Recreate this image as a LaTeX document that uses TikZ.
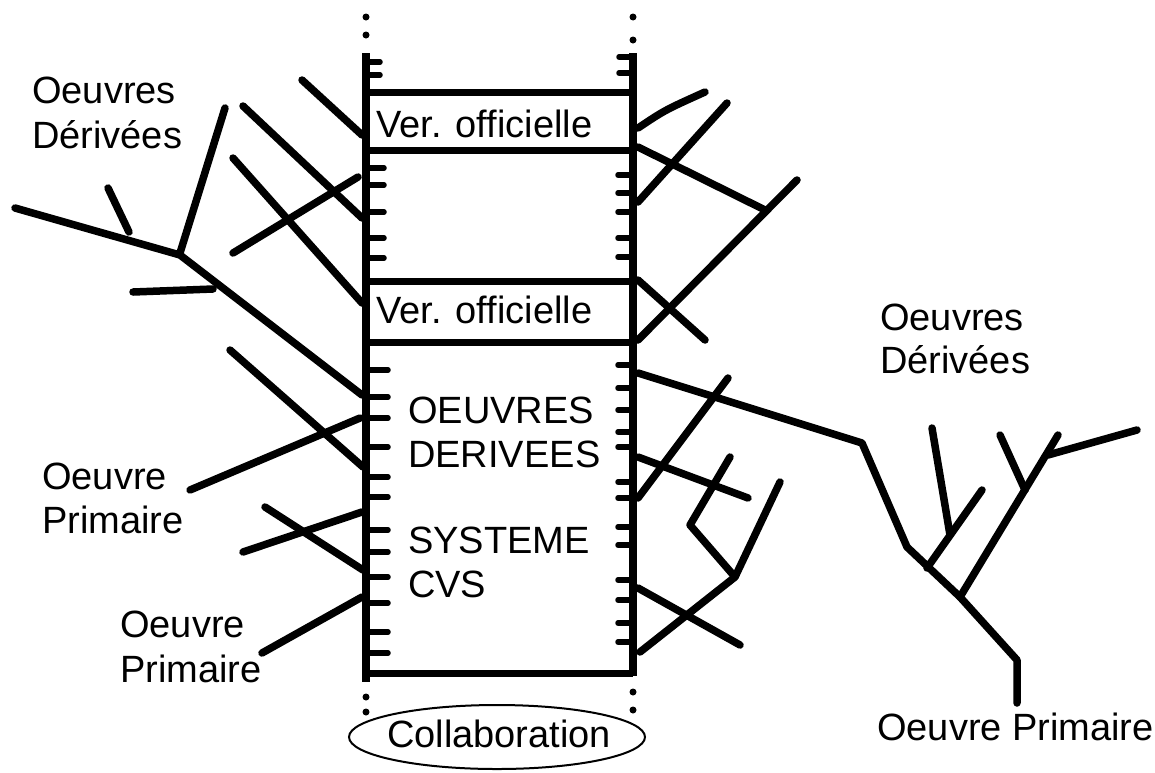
\documentclass[tikz,border=0pt]{standalone}
\usepackage{fontspec}
\setmainfont{Liberation Sans}
\usetikzlibrary{shapes.geometric}
\begin{document}
\begin{tikzpicture}[x=1pt,y=-1pt,
  br/.style={line width=7.5pt,line cap=round,line join=round},
  bx/.style={line width=7pt},
  vl/.style={line width=8pt},
  tk/.style={line width=5.5pt,line cap=round},
  lbl/.style={anchor=base west,inner sep=0pt,font=\fontsize{38}{44}\selectfont},
  dotn/.style={fill=black,circle,inner sep=0pt,minimum size=7pt}]
\useasboundingbox (0,0) rectangle (1155,772);
\fill[white] (0,0) rectangle (1155,772);

% dotted continuations
\foreach \y in {17,35,697,712} \node[dotn] at (366,\y) {};
\foreach \y in {17,40,692,710} \node[dotn] at (633,\y) {};

% vertical lines of the main column
\draw[vl] (366,53) -- (366,682);
\draw[vl] (633,53) -- (633,676);

% horizontal box lines
\foreach \y in {92,150,281,342,673} \draw[bx] (366,\y) -- (633,\y);

% ticks left
\foreach \y in {62,75} \draw[tk] (366,\y) -- (380,\y);
\foreach \y in {168,185,212,238,258} \draw[tk] (366,\y) -- (384,\y);
\foreach \y in {370,397,418,447,477,497,530,552,577,603,632,653} \draw[tk] (366,\y) -- (388,\y);
% ticks right
\foreach \y in {57,73} \draw[tk] (619,\y) -- (633,\y);
\foreach \y in {175,193,212,238,257} \draw[tk] (618,\y) -- (633,\y);
\foreach \y in {365,388,410,432,447,482,498,527,545,580,600,623,642} \draw[tk] (618,\y) -- (633,\y);

% left branches (upper)
\draw[br] (302,80) -- (362,135);
\draw[br] (243,106) -- (362,218);
\draw[br] (233,158) -- (362,303);
\draw[br] (233,253) -- (358,177);
\draw[br] (15,208) -- (180,255) -- (362,395);
\draw[br] (108,188) -- (129,232);
\draw[br] (180,253) -- (225,108);
\draw[br] (133,292) -- (213,289);
% left branches (lower)
\draw[br] (230,350) -- (363,467);
\draw[br] (190,490) -- (360,418);
\draw[br] (265,507) -- (363,570);
\draw[br] (243,552) -- (362,512);
\draw[br] (262,653) -- (362,597);

% right branches (upper)
\draw[br] (638,128) .. controls (665,110) .. (705,92);
\draw[br] (638,202) -- (727,103);
\draw[br] (638,147) -- (765,210);
\draw[br] (638,340) -- (797,180);
\draw[br] (638,280) -- (705,340);
% right branches (lower)
\draw[br] (638,498) -- (728,378);
\draw[br] (638,457) -- (748,498);
\draw[br] (730,457) -- (690,525) -- (735,577) -- (780,482);
\draw[br] (735,577) -- (640,652);
\draw[br] (638,588) -- (740,645);

% right tree
\draw[br] (638,373) -- (862,443) -- (907,547) -- (960,597) -- (1017,660) -- (1017,703);
\draw[br] (927,568) -- (982,490);
\draw[br] (950,535) -- (932,428);
\draw[br] (960,597) -- (1058,435);
\draw[br] (1000,435) -- (1025,490);
\draw[br] (1048,455) -- (1137,430);

% texts
\node[lbl] (v1) at (376,137) {Ver. officielle};
\node[lbl] (v2) at (376,323) {Ver. officielle};
\node[lbl] (od1) at (408,423) {OEUVRES};
\node[lbl] (od2) at (408,467) {DERIVEES};
\node[lbl] (cvs1) at (408,553) {SYSTEME};
\node[lbl] (cvs2) at (408,597) {CVS};

\node[lbl] (ld1) at (32,103) {Oeuvres};
\node[lbl] (ld2) at (32,148) {Dérivées};
\node[lbl] (lp1) at (42,489) {Oeuvre};
\node[lbl] (lp2) at (42,533) {Primaire};
\node[lbl] (lq1) at (120,637) {Oeuvre};
\node[lbl] (lq2) at (120,682) {Primaire};
\node[lbl] (rd1) at (880,330) {Oeuvres};
\node[lbl] (rd2) at (880,373) {Dérivées};
\node[lbl] (rp) at (877,740) {Oeuvre Primaire};

\node[draw,line width=2pt,ellipse,minimum width=296pt,minimum height=64pt,inner sep=0pt] (collab) at (497,737) {};
\node[lbl,anchor=base] (collabt) at (499,747) {Collaboration};
\end{tikzpicture}
\end{document}
